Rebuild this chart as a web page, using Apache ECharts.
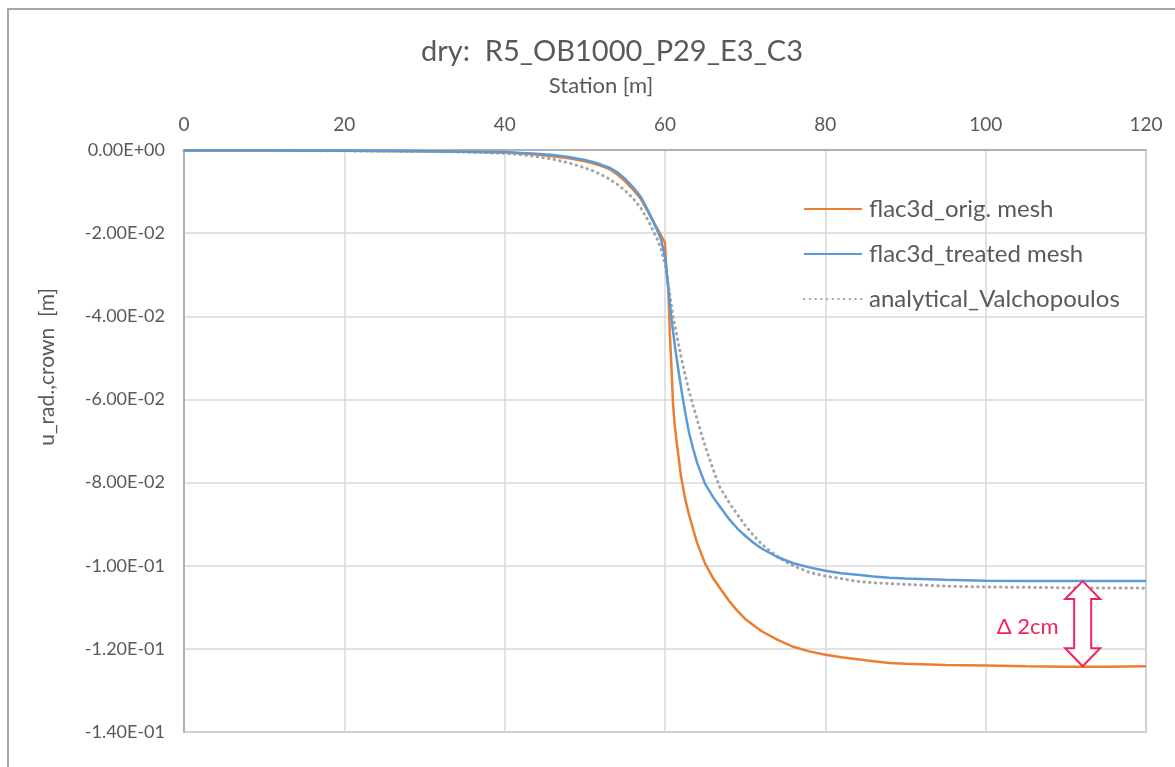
<!DOCTYPE html>
<html>
<head>
<meta charset="utf-8">
<script src="https://cdn.jsdelivr.net/npm/echarts@6/dist/echarts.min.js"></script>
<style>
html,body{margin:0;padding:0;background:#fff;}
#c{width:1175px;height:767px;}
</style>
</head>
<body>
<div id="c"></div>
<script>
// ---- data ----
const titleText = 'dry:  R5_OB1000_P29_E3_C3';
const xAxisName = 'Station [m]';
const yAxisName = 'u_rad.,crown  [m]';
const seriesNames = ['flac3d_orig. mesh', 'flac3d_treated mesh', 'analytical_Valchopoulos'];
const yTickLabels = ['0.00E+00', '-2.00E-02', '-4.00E-02', '-6.00E-02', '-8.00E-02', '-1.00E-01', '-1.20E-01', '-1.40E-01'];
const xTickLabels = ['0', '20', '40', '60', '80', '100', '120'];

const origX = [0, 10, 20, 30, 35, 40, 42, 44, 46, 48, 50, 51, 52, 53, 54, 55, 56, 57, 58, 59, 59.5, 60, 60.1, 60.2, 60.4, 60.5, 60.6, 60.8, 61, 61.2, 61.5, 62, 62.5, 63, 64, 65, 66, 67, 68, 69, 70, 72, 74, 76, 78, 80, 82, 84, 86, 88, 90, 95, 100, 105, 110, 115, 120];
const origY = [-0.0001, -0.0001, -0.0002, -0.0003, -0.0004, -0.0006, -0.0008, -0.0011, -0.0015, -0.0020, -0.0027, -0.0032, -0.0038, -0.0045, -0.0058, -0.0075, -0.0095, -0.0118, -0.0153, -0.0188, -0.0205, -0.0223, -0.0265, -0.0290, -0.0330, -0.0385, -0.0440, -0.0520, -0.0610, -0.0660, -0.0710, -0.0785, -0.0838, -0.0878, -0.0945, -0.0995, -0.1030, -0.1058, -0.1085, -0.1108, -0.1128, -0.1157, -0.1178, -0.1195, -0.1206, -0.1214, -0.1220, -0.1225, -0.1230, -0.1234, -0.1236, -0.1239, -0.1240, -0.1242, -0.1243, -0.1243, -0.1242];

const treatX = [0, 10, 20, 30, 35, 40, 42, 44, 46, 48, 50, 51, 52, 53, 54, 55, 56, 57, 58, 59, 59.5, 60, 60.4, 60.8, 61.25, 61.75, 62.25, 62.7, 63, 63.5, 64, 65, 66, 67, 68, 69, 70, 71, 72, 74, 76, 78, 80, 82, 84, 86, 88, 90, 95, 100, 105, 110, 115, 120];
const treatY = [-0.0001, -0.0001, -0.0002, -0.0003, -0.0004, -0.0005, -0.0007, -0.0009, -0.0012, -0.0017, -0.0024, -0.0029, -0.0035, -0.0042, -0.0053, -0.0069, -0.0089, -0.0113, -0.0150, -0.0192, -0.0215, -0.0257, -0.0330, -0.0405, -0.0474, -0.0540, -0.0601, -0.0650, -0.0680, -0.0718, -0.0752, -0.0803, -0.0835, -0.0862, -0.0888, -0.0910, -0.0928, -0.0944, -0.0958, -0.0979, -0.0994, -0.1004, -0.1012, -0.1018, -0.1022, -0.1026, -0.1029, -0.1031, -0.1034, -0.1036, -0.1037, -0.1037, -0.1037, -0.1037];

const anaX = [0, 10, 20, 30, 35, 40, 42, 44, 46, 48, 50, 51, 52, 53, 54, 55, 56, 57, 58, 59, 59.5, 60, 60.5, 61, 61.5, 62, 62.5, 63, 63.5, 64, 64.5, 65, 65.5, 66, 66.8, 68, 69, 70, 71, 72, 73, 74, 75, 76, 78, 80, 82, 84, 86, 88, 90, 95, 100, 110, 120];
const anaY = [-0.0001, -0.0001, -0.0002, -0.0003, -0.0005, -0.0008, -0.0011, -0.0016, -0.0022, -0.0031, -0.0043, -0.0050, -0.0059, -0.0069, -0.0082, -0.0097, -0.0116, -0.0140, -0.0173, -0.0213, -0.0238, -0.0275, -0.0335, -0.0400, -0.0448, -0.0497, -0.0540, -0.0580, -0.0615, -0.0648, -0.0680, -0.0712, -0.0740, -0.0768, -0.0810, -0.0848, -0.0876, -0.0903, -0.0926, -0.0947, -0.0963, -0.0977, -0.0990, -0.1000, -0.1016, -0.1025, -0.1031, -0.1038, -0.1041, -0.1043, -0.1045, -0.1049, -0.1051, -0.1053, -0.1054];

const deltaLabel = 'Δ 2cm';
const arrowStation = 112.1;
const arrowTopValue = -0.1037;
const arrowBottomValue = -0.1242;

// ---- chart ----
const FONT = 'Lato';
const TXT = '#595959';
const chart = echarts.init(document.getElementById('c'), null, {renderer: 'canvas'});
const zip = (xs, ys) => xs.map((x, i) => [x, ys[i]]);

const option = {
  backgroundColor: '#fff',
  animation: false,
  title: {
    text: titleText,
    left: 607, top: 32, textAlign: 'center',
    textStyle: {fontFamily: FONT, fontSize: 29, fontWeight: 'normal', color: TXT}
  },
  grid: {
    left: 184, top: 150, right: 29, bottom: 35,
    show: true, borderColor: '#A6A6A6', borderWidth: 1.5, backgroundColor: 'transparent'
  },
  legend: {
    orient: 'vertical', left: 798, top: 192,
    itemWidth: 58, itemHeight: 14, itemGap: 21,
    itemStyle: {opacity: 0},
    textStyle: {fontFamily: FONT, fontSize: 24, lineHeight: 24, color: TXT, padding: [0, 0, 0, 2]},
    data: seriesNames
  },
  xAxis: {
    type: 'value', position: 'top', min: 0, max: 120, interval: 20,
    axisLine: {show: true, onZero: false, lineStyle: {color: '#A6A6A6', width: 1.5}},
    axisTick: {show: false},
    axisLabel: {fontFamily: FONT, fontSize: 19, color: TXT, margin: 16,
      formatter: v => xTickLabels[Math.round(v / 20)]},
    splitLine: {show: true, lineStyle: {color: '#D9D9D9', width: 1.5}}
  },
  yAxis: {
    type: 'value', min: -0.14, max: 0, interval: 0.02,
    axisLine: {show: true, onZero: false, lineStyle: {color: '#A6A6A6', width: 1.5}},
    axisTick: {show: false},
    axisLabel: {fontFamily: FONT, fontSize: 18, color: TXT, margin: 19,
      formatter: v => yTickLabels[Math.round(-v / 0.02)]},
    splitLine: {show: true, lineStyle: {color: '#D9D9D9', width: 1.5}}
  },
  series: [
    {name: seriesNames[0], type: 'line', data: zip(origX, origY), symbol: 'none', smooth: false,
      color: '#ED7D31', lineStyle: {color: '#ED7D31', width: 2.5}, z: 3},
    {name: seriesNames[1], type: 'line', data: zip(treatX, treatY), symbol: 'none', smooth: false,
      color: '#5B9BD5', lineStyle: {color: '#5B9BD5', width: 2.5}, z: 4},
    {name: seriesNames[2], type: 'line', data: zip(anaX, anaY), symbol: 'none', smooth: false,
      color: '#A5A5A5', lineStyle: {color: '#A5A5A5', width: 3, type: [0.5, 5.2], cap: 'round'}, z: 2}
  ]
};
chart.setOption(option);

// annotation: hollow double arrow + label, positioned via the chart scales
const p1 = chart.convertToPixel({gridIndex: 0}, [arrowStation, arrowTopValue]);
const p2 = chart.convertToPixel({gridIndex: 0}, [arrowStation, arrowBottomValue]);
const cx = p1[0], ty = p1[1], by = p2[1];
const hw = 17.5, sw = 8.5, hh = 18;
const RED = '#F0245A';
chart.setOption({
  graphic: [
    {type: 'rect', silent: true, z: -10,
      shape: {x: 8, y: 9, width: 1300, height: 900},
      style: {fill: 'none', stroke: '#A6A6A6', lineWidth: 2}},
    {type: 'text', z: 100, x: 601, y: 86,
      style: {text: xAxisName, fill: TXT, font: '22px Lato', align: 'center', verticalAlign: 'middle'}},
    {type: 'text', z: 100, x: 47, y: 367, rotation: Math.PI / 2,
      style: {text: yAxisName, fill: TXT, font: '21px Lato', align: 'center', verticalAlign: 'middle'}},
    {type: 'polygon', z: 100,
      shape: {points: [
        [cx, ty], [cx + hw, ty + hh], [cx + sw, ty + hh], [cx + sw, by - hh], [cx + hw, by - hh],
        [cx, by], [cx - hw, by - hh], [cx - sw, by - hh], [cx - sw, ty + hh], [cx - hw, ty + hh]
      ]},
      style: {fill: '#fff', stroke: RED, lineWidth: 2, lineJoin: 'miter'}},
    {type: 'text', z: 100, x: cx - 24, y: (ty + by) / 2 + 3,
      style: {text: deltaLabel, fill: RED, font: '22px Lato', align: 'right', verticalAlign: 'middle'}}
  ]
});
</script>
</body>
</html>
